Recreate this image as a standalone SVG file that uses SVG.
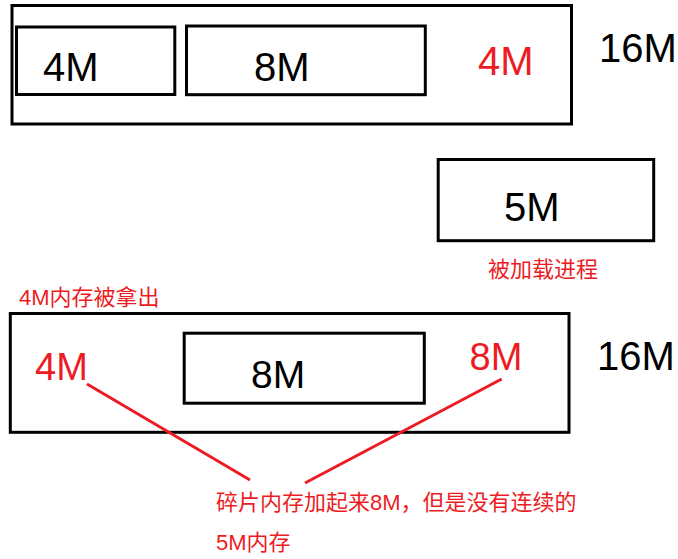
<svg xmlns="http://www.w3.org/2000/svg" width="678" height="559" viewBox="0 0 678 559">
<style>
.box{fill:none;stroke:#000;stroke-width:3}
.big{font-family:"Liberation Sans","Noto Sans CJK SC",sans-serif;font-size:40px;fill:#000}
.red{fill:#ed1c24}
.cn{font-family:"Liberation Sans","Noto Sans CJK SC",sans-serif;font-size:22px;fill:#ed1c24}
.link{stroke:#ed1c24;stroke-width:3;fill:none}
</style>
<rect width="678" height="559" fill="#fff"/>
<g id="memory-before">
<rect class="box" x="12" y="5.5" width="559.5" height="118.5"/>
<text class="big" x="599" y="62">16M</text>
</g>
<g id="block-4m-top">
<rect class="box" x="16.5" y="27" width="158.3" height="67.5"/>
<text class="big" x="43" y="81">4M</text>
</g>
<g id="block-8m-top">
<rect class="box" x="186.5" y="26" width="238.8" height="68.7"/>
<text class="big" x="254" y="81">8M</text>
</g>
<g id="free-4m-top">
<text class="big red" x="478" y="75">4M</text>
</g>
<g id="process-5m">
<rect class="box" x="438.2" y="159.5" width="215.5" height="81.2"/>
<text class="big" x="504" y="221">5M</text>
<text class="cn" x="488" y="276.5">被加载进程</text>
</g>
<g id="removed-label">
<text class="cn" x="19" y="304.5">4M内存被拿出</text>
</g>
<g id="memory-after">
<rect class="box" x="10.3" y="313.5" width="558.7" height="118.8"/>
<text class="big" x="597" y="370">16M</text>
</g>
<g id="free-4m-bottom">
<text class="big red" x="35" y="380" style="font-size:38px">4M</text>
</g>
<g id="block-8m-bottom">
<rect class="box" x="184.2" y="333.2" width="240.1" height="70"/>
<text class="big" x="251" y="388" style="font-size:39px">8M</text>
</g>
<g id="free-8m-bottom">
<text class="big red" x="469.5" y="370" style="font-size:38px">8M</text>
</g>
<g id="connectors">
<line class="link" x1="87" y1="384" x2="250" y2="480"/>
<line class="link" x1="501.7" y1="379" x2="305" y2="483"/>
</g>
<g id="note">
<text class="cn" x="216" y="509.5">碎片内存加起来8M，但是没有连续的</text>
<text class="cn" x="216" y="550">5M内存</text>
</g>
</svg>
